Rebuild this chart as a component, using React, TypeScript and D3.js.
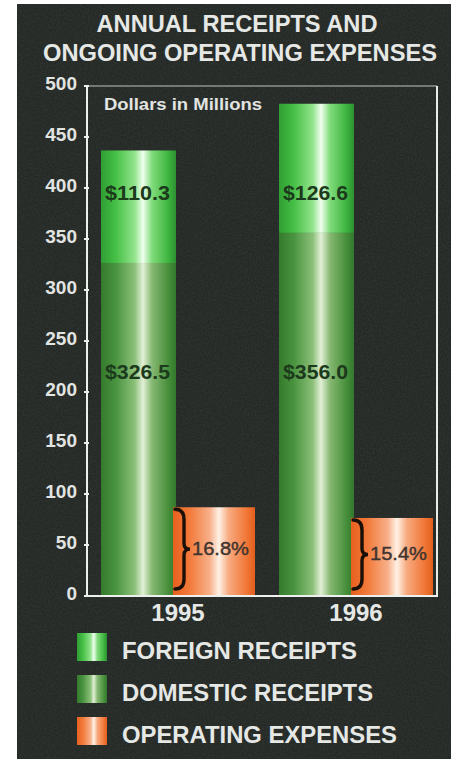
import React from "react";
import * as d3 from "d3";

const years = ["1995", "1996"];
const foreignReceipts = [110.3, 126.6];
const domesticReceipts = [326.5, 356.0];
const operatingExpenses = [87, 76.5];
const expenseShares = ["16.8%", "15.4%"];
const foreignLabels = ["$110.3", "$126.6"];
const domesticLabels = ["$326.5", "$356.0"];
const yTickValues = [0, 50, 100, 150, 200, 250, 300, 350, 400, 450, 500];
const legendLabels = ["FOREIGN RECEIPTS", "DOMESTIC RECEIPTS", "OPERATING EXPENSES"];
const titleLines = ["ANNUAL RECEIPTS AND", "ONGOING OPERATING EXPENSES"];

const W = 456;
const H = 759;
const FONT = "'Liberation Sans', Arial, Helvetica, sans-serif";

function bracePath(x0: number, y0: number, y1: number, w: number) {
  const ym = (y0 + y1) / 2;
  const xv = x0 + w * 0.6;
  const xt = x0 + w;
  return [
    `M${x0},${y0}`,
    `Q${xv},${y0} ${xv},${y0 + 10}`,
    `L${xv},${ym - 6}`,
    `Q${xv},${ym} ${xt},${ym}`,
    `Q${xv},${ym} ${xv},${ym + 6}`,
    `L${xv},${y1 - 10}`,
    `Q${xv},${y1} ${x0},${y1}`,
  ].join(" ");
}

export default function App() {
  const y = d3.scaleLinear().domain([0, 500]).range([596, 86]);
  const x = d3.scalePoint<string>().domain(years).range([174, 352]);
  const greenW = 73;
  const orangeW = 82;
  const left = 87;
  const right = 437;

  const grad = (id: string, stops: [number, string][]) => (
    <linearGradient id={id} x1="0" x2="1" y1="0" y2="0">
      {stops.map(([o, c], i) => (
        <stop key={i} offset={o} stopColor={c} />
      ))}
    </linearGradient>
  );

  const fills = ["url(#gForeign)", "url(#gDomestic)", "url(#gExpense)"];
  const legendText = [235, 251, 275];

  return (
    <div style={{ position: "absolute", left: 0, top: 0, background: "#fff" }}>
      <svg width={W} height={H} style={{ display: "block" }}>
        <defs>
          {grad("gForeign", [
            [0, "#2f9e33"],
            [0.2, "#46c046"],
            [0.45, "#92e48c"],
            [0.56, "#f0fff0"],
            [0.68, "#80dc7a"],
            [0.9, "#3db43f"],
            [1, "#2c9030"],
          ])}
          {grad("gDomestic", [
            [0, "#347a2c"],
            [0.2, "#4a9440"],
            [0.45, "#8cc07a"],
            [0.56, "#e2f0d6"],
            [0.68, "#86b872"],
            [0.9, "#468e3a"],
            [1, "#33782c"],
          ])}
          {grad("gExpense", [
            [0, "#e8601e"],
            [0.2, "#f27a3a"],
            [0.45, "#f8b08a"],
            [0.56, "#fff2e6"],
            [0.68, "#f8aa80"],
            [0.9, "#f07636"],
            [1, "#e25e1c"],
          ])}
          <filter id="noise" x="0" y="0" width="100%" height="100%">
            <feTurbulence type="fractalNoise" baseFrequency="0.6" numOctaves="2" seed="3" />
            <feColorMatrix type="matrix" values="0 0 0 0 0.5  0 0 0 0 0.55  0 0 0 0 0.52  0 0 0 0.35 0" />
          </filter>
        </defs>

        <rect x={17} y={4} width={434} height={H - 4} fill="#1f2421" />
        <rect x={17} y={4} width={434} height={H - 4} filter="url(#noise)" opacity={0.35} />

        {titleLines.map((t, i) => (
          <text
            key={t}
            x={i === 0 ? 237 : 240}
            y={i === 0 ? 32 : 61}
            textAnchor="middle"
            fontFamily={FONT}
            fontWeight="bold"
            fontSize={23.5}
            fill="#e6e8e6"
            textLength={i === 0 ? 281 : 394}
            lengthAdjust="spacingAndGlyphs"
          >
            {t}
          </text>
        ))}

        {/* frame */}
        <line x1={left} x2={right} y1={y(500)} y2={y(500)} stroke="#b8bcb8" strokeWidth={1.5} opacity={0.7} />
        <line x1={right} x2={right} y1={y(500)} y2={y(0)} stroke="#e8ece8" strokeWidth={2} />

        {/* bars */}
        {years.map((yr, i) => {
          const c = x(yr)!;
          const gx = c - greenW;
          return (
            <g key={yr}>
              <rect
                x={gx}
                y={y(domesticReceipts[i])}
                width={greenW + 2}
                height={y(0) - y(domesticReceipts[i])}
                fill="url(#gDomestic)"
              />
              <rect
                x={gx}
                y={y(domesticReceipts[i] + foreignReceipts[i])}
                width={greenW + 2}
                height={y(domesticReceipts[i]) - y(domesticReceipts[i] + foreignReceipts[i])}
                fill="url(#gForeign)"
              />
              <rect
                x={c - 1}
                y={y(operatingExpenses[i])}
                width={orangeW}
                height={y(0) - y(operatingExpenses[i])}
                fill="url(#gExpense)"
              />
              <text
                x={gx + greenW / 2}
                y={y(395) + 7}
                textAnchor="middle"
                fontFamily={FONT}
                fontWeight="bold"
                fontSize={21}
                fill="#1c3a1c"
                textLength={65}
                lengthAdjust="spacingAndGlyphs"
              >
                {foreignLabels[i]}
              </text>
              <text
                x={gx + greenW / 2}
                y={y(220) + 7}
                textAnchor="middle"
                fontFamily={FONT}
                fontWeight="bold"
                fontSize={21}
                fill="#1c3a1c"
                textLength={65}
                lengthAdjust="spacingAndGlyphs"
              >
                {domesticLabels[i]}
              </text>
              <path
                d={bracePath(c + 1, y(operatingExpenses[i]) + 2, y(0) - 7, 15)}
                fill="none"
                stroke="#1a1008"
                strokeWidth={3.4}
                strokeLinecap="round"
              />
              <text
                x={c + 18}
                y={(y(operatingExpenses[i]) + y(0) - 5) / 2 + 6}
                fontFamily={FONT}
                fontSize={18}
                fill="#40342e"
                stroke="#40342e"
                strokeWidth={0.4}
                textLength={57}
                lengthAdjust="spacingAndGlyphs"
              >
                {expenseShares[i]}
              </text>
              <text
                x={c + 4}
                y={621}
                textAnchor="middle"
                fontFamily={FONT}
                fontWeight="bold"
                fontSize={24}
                fill="#e6e8e6"
              >
                {yr}
              </text>
            </g>
          );
        })}

        {/* axes */}
        <line x1={left} x2={left} y1={y(500)} y2={y(0) + 1} stroke="#eef0ee" strokeWidth={2} />
        <line x1={left - 1} x2={right + 1} y1={y(0)} y2={y(0)} stroke="#eef0ee" strokeWidth={2} />
        {yTickValues.map((v) => (
          <g key={v}>
            <line x1={left - 3} x2={left + 2} y1={y(v)} y2={y(v)} stroke="#eef0ee" strokeWidth={2} />
            <text
              x={77}
              y={y(v) + 4}
              textAnchor="end"
              fontFamily={FONT}
              fontWeight="bold"
              fontSize={19}
              fill="#e2e4e2"
            >
              {v}
            </text>
          </g>
        ))}

        <text
          x={104}
          y={110}
          fontFamily={FONT}
          fontWeight="bold"
          fontSize={16}
          fill="#e2e4e2"
          textLength={158}
          lengthAdjust="spacingAndGlyphs"
        >
          Dollars in Millions
        </text>

        {/* legend */}
        {legendLabels.map((l, i) => (
          <g key={l} transform={`translate(0, ${i * 42})`}>
            <rect x={77} y={633} width={30} height={28} fill={fills[i]} />
            <text
              x={122}
              y={659}
              fontFamily={FONT}
              fontWeight="bold"
              fontSize={23}
              fill="#e6e8e6"
              textLength={legendText[i]}
              lengthAdjust="spacingAndGlyphs"
            >
              {l}
            </text>
          </g>
        ))}
      </svg>
    </div>
  );
}
